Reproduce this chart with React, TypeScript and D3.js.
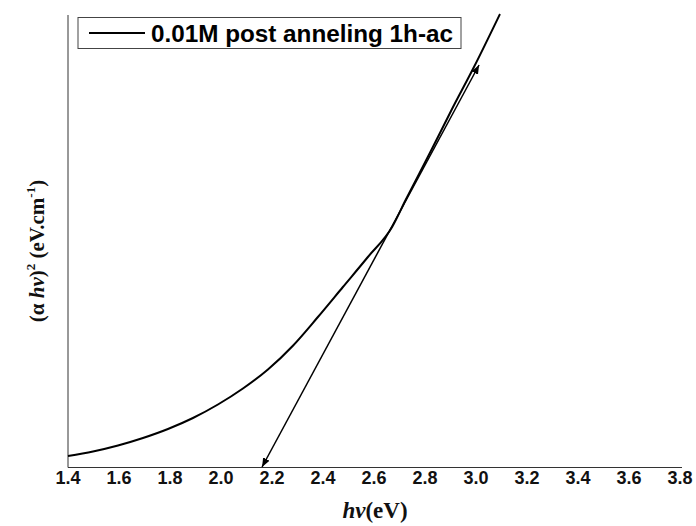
import React from "react";
import * as d3 from "d3";

const photonEnergy = [1.4, 1.498, 1.596, 1.694, 1.792, 1.89, 1.988, 2.086, 2.184, 2.282, 2.38, 2.478, 2.576, 2.671, 2.724, 2.825, 2.904, 2.992, 3.094];
const absorption = [0.11, 0.155, 0.215, 0.29, 0.38, 0.49, 0.625, 0.785, 0.975, 1.213, 1.5, 1.8, 2.1, 2.4, 2.67, 3.17, 3.57, 4.0, 4.53];
const tangentX = [2.161, 3.012];
const tangentY = [0.0, 4.02];
const xTicks = [1.4, 1.6, 1.8, 2.0, 2.2, 2.4, 2.6, 2.8, 3.0, 3.2, 3.4, 3.6, 3.8];
const legendLabel = "0.01M post anneling 1h-ac";

export default function App() {
  const W = 696, H = 526;
  const x = d3.scaleLinear().domain([1.4, 3.8]).range([68, 680]);
  const y = d3.scaleLinear().domain([0, 4.52]).range([467, 15]);
  const line = d3.line<number>().x((_, i) => x(photonEnergy[i])).y((d) => y(d)).curve(d3.curveMonotoneX);
  const path = line(absorption) || "";
  const tx0 = x(tangentX[0]), ty0 = y(tangentY[0]);
  const tx1 = x(tangentX[1]), ty1 = y(tangentY[1]);
  return (
    <svg width={W} height={H} style={{ position: "absolute", left: 0, top: 0 }}>
      <defs>
        <marker id="arr" viewBox="0 0 10 10" refX="10" refY="5" markerWidth="9" markerHeight="9" orient="auto-start-reverse" markerUnits="userSpaceOnUse">
          <path d="M0,1 L10,5 L0,9 Z" fill="#000" />
        </marker>
      </defs>
      <rect width={W} height={H} fill="#fff" />
      <line x1={68} y1={15} x2={68} y2={467.5} stroke="#333" strokeWidth={1} />
      <line x1={68} y1={467.5} x2={682} y2={467.5} stroke="#333" strokeWidth={1} />
      {xTicks.map((t) => (
        <text key={t} x={x(t)} y={484} textAnchor="middle" fontFamily="Liberation Sans, Arial, sans-serif" fontWeight="bold" fontSize={18} fill="#111">
          {t.toFixed(1)}
        </text>
      ))}
      <text x={375} y={518} textAnchor="middle" fontFamily="Liberation Serif, Times New Roman, serif" fontWeight="bold" fontSize={23} fill="#111">
        <tspan fontStyle="italic">hν</tspan>(eV)
      </text>
      <text transform="translate(44,251) rotate(-90)" textAnchor="middle" fontFamily="Liberation Serif, Times New Roman, serif" fontWeight="bold" fontSize={21} fill="#111">
        (α <tspan fontStyle="italic">hν</tspan>)<tspan dy={-9} fontSize={13}>2</tspan><tspan dy={9}> (eV.cm</tspan><tspan dy={-9} fontSize={13}>-1</tspan><tspan dy={9}>)</tspan>
      </text>
      <path d={path} fill="none" stroke="#000" strokeWidth={2} />
      <line x1={tx1} y1={ty1} x2={tx0} y2={ty0} stroke="#000" strokeWidth={1.5} markerStart="url(#arr)" markerEnd="url(#arr)" />
      <rect x={78} y={17.5} width={383} height={31} fill="#fff" stroke="#444" strokeWidth={1} />
      <line x1={89} y1={33} x2={145} y2={33} stroke="#000" strokeWidth={2} />
      <text x={151} y={42} fontFamily="Liberation Sans, Arial, sans-serif" fontWeight="bold" fontSize={23} fill="#000" textLength={302} lengthAdjust="spacingAndGlyphs">
        {legendLabel}
      </text>
    </svg>
  );
}
